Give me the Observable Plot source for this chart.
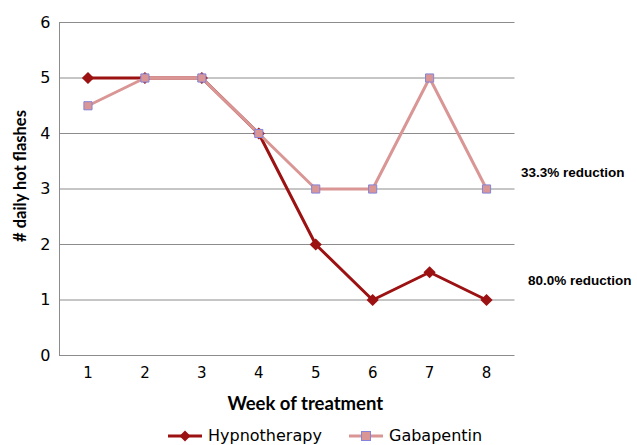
<!DOCTYPE html>
<html><head><meta charset="utf-8">
<script src="https://cdn.jsdelivr.net/npm/d3@7"></script>
<script src="https://cdn.jsdelivr.net/npm/@observablehq/plot@0.6"></script>
<style>
body{margin:0;background:#fff;font-family:"DejaVu Sans",Verdana,sans-serif;}
#legend{height:25px;font-size:16px;color:#000;position:relative;}
.item{position:absolute;display:flex;align-items:center;top:6px;}
</style></head>
<body><div id="chart"></div><div id="legend"></div>
<script>
const weeks = [1,2,3,4,5,6,7,8];
const hypnotherapy = [5,5,5,4,2,1,1.5,1];
const gabapentin = [4.5,5,5,4,3,3,5,3];
const yTicks = [0,1,2,3,4,5,6];
const annotationLabels = ["33.3% reduction","80.0% reduction"];
const annotationY = [3.3, 1.35];
const hypColor = "#9c1111", gabColor = "#d99694", gabEdge = "#8484dc";

const hyp = weeks.map((w,i)=>({week:w, value:hypnotherapy[i]}));
const gab = weeks.map((w,i)=>({week:w, value:gabapentin[i]}));
const annFont = {fontFamily:"Liberation Sans, Arial, sans-serif", fontWeight:"bold", fontSize:13.5, fill:"#000", textAnchor:"start"};

const chart = Plot.plot({
  width:637, height:420,
  marginLeft:59, marginRight:122.5, marginTop:22, marginBottom:65,
  style:{fontFamily:"DejaVu Sans, Verdana, sans-serif", fontSize:"16px", color:"#000", background:"#fff"},
  x:{domain:[0.5,8.5], ticks:weeks, tickSize:0, tickPadding:12, label:null, tickFormat:d=>String(d)},
  y:{domain:[0,6], ticks:yTicks, tickSize:0, tickPadding:9, label:null, tickFormat:d=>String(d)},
  marks:[
    Plot.ruleY(yTicks.filter(d=>d>0), {stroke:"#8c8c8c", strokeWidth:1}),
    Plot.ruleY([0], {stroke:"#8c8c8c", strokeWidth:1}),
    Plot.ruleX([0.5], {stroke:"#8c8c8c", strokeWidth:1}),
    Plot.lineY(hyp, {x:"week", y:"value", stroke:hypColor, strokeWidth:3}),
    Plot.dot(hyp, {x:"week", y:"value", symbol:"diamond2", r:5.5, fill:hypColor, stroke:"none"}),
    Plot.lineY(gab, {x:"week", y:"value", stroke:gabColor, strokeWidth:3}),
    Plot.dot(gab, {x:"week", y:"value", symbol:"square", r:4.6, fill:gabColor, stroke:gabEdge, strokeWidth:1}),
    Plot.axisX({ticks:weeks, tickSize:0, tickPadding:12, fontSize:15, label:null, tickFormat:d=>String(d)}),
    Plot.axisY({ticks:yTicks, tickSize:0, tickPadding:9, fontSize:16, label:null, tickFormat:d=>String(d)}),
    Plot.text([annotationLabels[0]], {x:8.5, y:[annotationY[0]], text:d=>d, dx:6, ...annFont}),
    Plot.text([annotationLabels[1]], {x:8.5, y:[annotationY[1]], text:d=>d, dx:13, ...annFont}),
    Plot.text(["Week of treatment"], {frameAnchor:"bottom", dy:54, dx:18, fontFamily:"Lato, sans-serif", fontWeight:"bold", fontSize:18.5, fill:"#000"}),
    Plot.text(["# daily hot flashes"], {frameAnchor:"left", textAnchor:"middle", dx:-39, dy:-13, rotate:-90, fontFamily:"Lato, sans-serif", fontWeight:"bold", fontSize:16.5, fill:"#000"})
  ]
});
document.getElementById("chart").appendChild(chart);

const legend = document.getElementById("legend");
legend.innerHTML = `
<div class="item" style="left:168px"><svg width="34" height="12"><line x1="0" y1="6" x2="34" y2="6" stroke="${hypColor}" stroke-width="3"/><path d="M17,0.5L22.5,6L17,11.5L11.5,6Z" fill="${hypColor}"/></svg><span style="margin-left:6px">Hypnotherapy</span></div>
<div class="item" style="left:349px"><svg width="34" height="12"><line x1="0" y1="6" x2="34" y2="6" stroke="${gabColor}" stroke-width="3"/><rect x="12.5" y="1.5" width="9" height="9" fill="${gabColor}" stroke="${gabEdge}"/></svg><span style="margin-left:6px">Gabapentin</span></div>`;
</script></body></html>
